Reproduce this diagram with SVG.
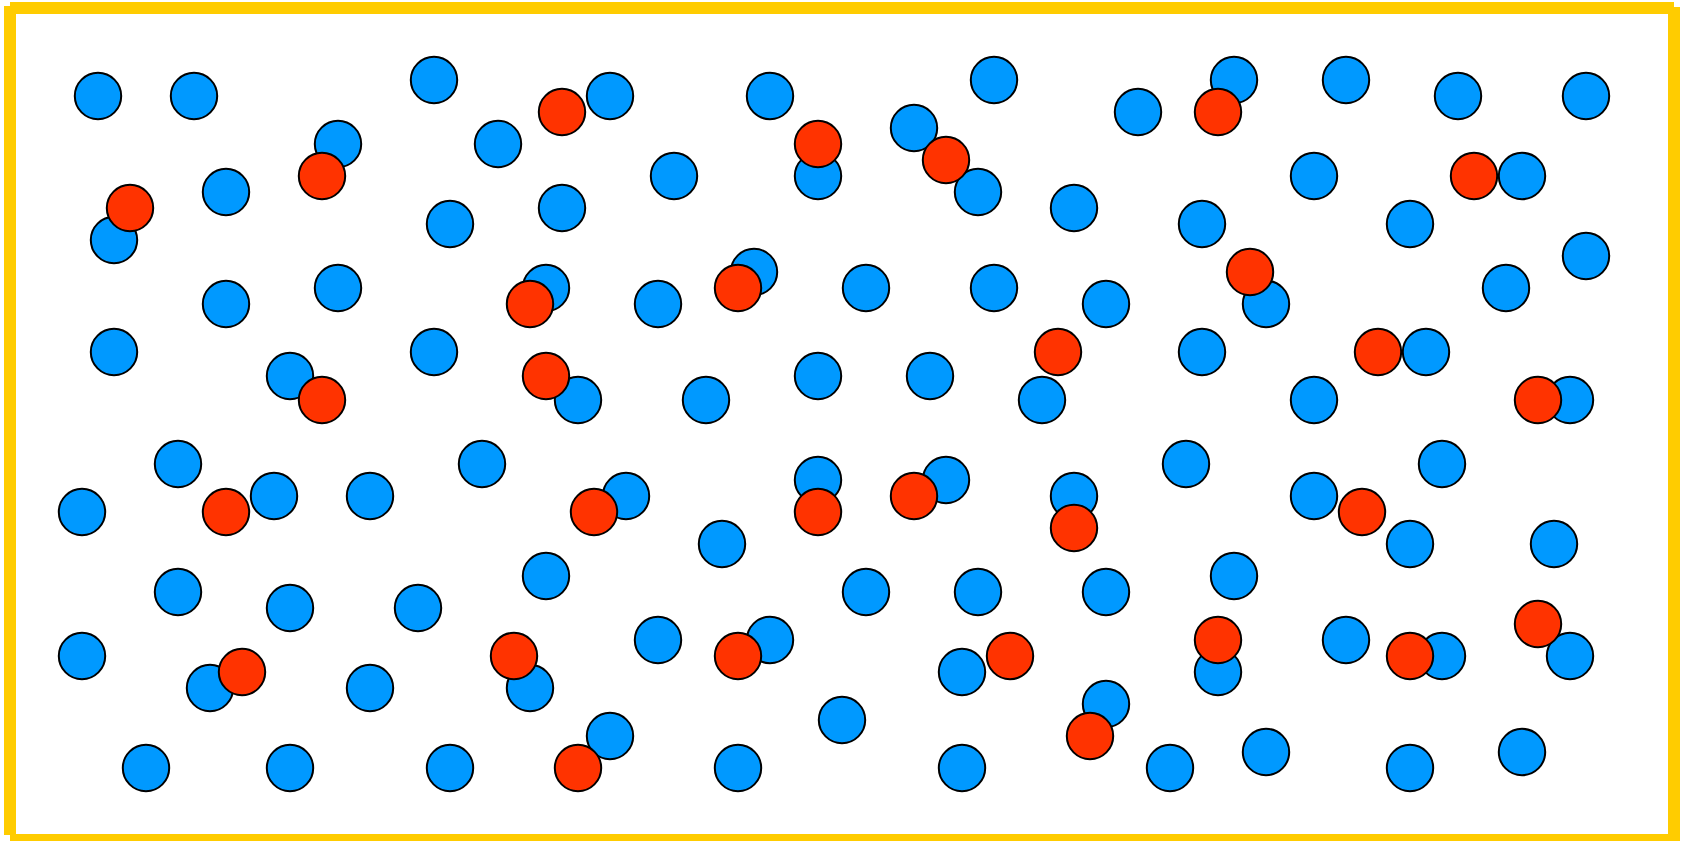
<svg xmlns="http://www.w3.org/2000/svg" width="1683" height="841" viewBox="0 0 1683 841">
<style>
.b{fill:#0099FF;stroke:#000;stroke-width:2}
.r{fill:#FF3300;stroke:#000;stroke-width:2}
circle{r:23.2px}
.f{stroke:#FFCC00;stroke-width:12;fill:none;stroke-linecap:butt}
</style>
<rect x="0" y="0" width="1683" height="841" fill="#fff"/>
<g id="frame">
<path class="f" d="M10 8H1674"/>
<path class="f" d="M1674 7V841"/>
<path class="f" d="M1674 840H10"/>
<path class="f" d="M10 835V6"/>
</g>
<g id="blue">
<circle class="b" cx="98" cy="96" r="23.2"/>
<circle class="b" cx="194" cy="96" r="23.2"/>
<circle class="b" cx="338" cy="144" r="23.2"/>
<circle class="b" cx="226" cy="192" r="23.2"/>
<circle class="b" cx="114" cy="240" r="23.2"/>
<circle class="b" cx="226" cy="304" r="23.2"/>
<circle class="b" cx="338" cy="288" r="23.2"/>
<circle class="b" cx="114" cy="352" r="23.2"/>
<circle class="b" cx="290" cy="376" r="23.2"/>
<circle class="b" cx="434" cy="80" r="23.2"/>
<circle class="b" cx="610" cy="96" r="23.2"/>
<circle class="b" cx="498" cy="144" r="23.2"/>
<circle class="b" cx="770" cy="96" r="23.2"/>
<circle class="b" cx="818" cy="176" r="23.2"/>
<circle class="b" cx="674" cy="176" r="23.2"/>
<circle class="b" cx="450" cy="224" r="23.2"/>
<circle class="b" cx="562" cy="208" r="23.2"/>
<circle class="b" cx="546" cy="288" r="23.2"/>
<circle class="b" cx="658" cy="304" r="23.2"/>
<circle class="b" cx="754" cy="272" r="23.2"/>
<circle class="b" cx="866" cy="288" r="23.2"/>
<circle class="b" cx="434" cy="352" r="23.2"/>
<circle class="b" cx="578" cy="400" r="23.2"/>
<circle class="b" cx="706" cy="400" r="23.2"/>
<circle class="b" cx="818" cy="376" r="23.2"/>
<circle class="b" cx="994" cy="80" r="23.2"/>
<circle class="b" cx="914" cy="128" r="23.2"/>
<circle class="b" cx="978" cy="192" r="23.2"/>
<circle class="b" cx="1138" cy="112" r="23.2"/>
<circle class="b" cx="1234" cy="80" r="23.2"/>
<circle class="b" cx="1074" cy="208" r="23.2"/>
<circle class="b" cx="1202" cy="224" r="23.2"/>
<circle class="b" cx="994" cy="288" r="23.2"/>
<circle class="b" cx="1106" cy="304" r="23.2"/>
<circle class="b" cx="1266" cy="304" r="23.2"/>
<circle class="b" cx="930" cy="376" r="23.2"/>
<circle class="b" cx="1042" cy="400" r="23.2"/>
<circle class="b" cx="1202" cy="352" r="23.2"/>
<circle class="b" cx="1346" cy="80" r="23.2"/>
<circle class="b" cx="1458" cy="96" r="23.2"/>
<circle class="b" cx="1586" cy="96" r="23.2"/>
<circle class="b" cx="1314" cy="176" r="23.2"/>
<circle class="b" cx="1522" cy="176" r="23.2"/>
<circle class="b" cx="1410" cy="224" r="23.2"/>
<circle class="b" cx="1586" cy="256" r="23.2"/>
<circle class="b" cx="1506" cy="288" r="23.2"/>
<circle class="b" cx="1426" cy="352" r="23.2"/>
<circle class="b" cx="1314" cy="400" r="23.2"/>
<circle class="b" cx="1570" cy="400" r="23.2"/>
<circle class="b" cx="178" cy="464" r="23.2"/>
<circle class="b" cx="82" cy="512" r="23.2"/>
<circle class="b" cx="274" cy="496" r="23.2"/>
<circle class="b" cx="370" cy="496" r="23.2"/>
<circle class="b" cx="178" cy="592" r="23.2"/>
<circle class="b" cx="290" cy="608" r="23.2"/>
<circle class="b" cx="418" cy="608" r="23.2"/>
<circle class="b" cx="82" cy="656" r="23.2"/>
<circle class="b" cx="210" cy="688" r="23.2"/>
<circle class="b" cx="370" cy="688" r="23.2"/>
<circle class="b" cx="146" cy="768" r="23.2"/>
<circle class="b" cx="290" cy="768" r="23.2"/>
<circle class="b" cx="482" cy="464" r="23.2"/>
<circle class="b" cx="626" cy="496" r="23.2"/>
<circle class="b" cx="546" cy="576" r="23.2"/>
<circle class="b" cx="722" cy="544" r="23.2"/>
<circle class="b" cx="818" cy="480" r="23.2"/>
<circle class="b" cx="658" cy="640" r="23.2"/>
<circle class="b" cx="770" cy="640" r="23.2"/>
<circle class="b" cx="530" cy="688" r="23.2"/>
<circle class="b" cx="610" cy="736" r="23.2"/>
<circle class="b" cx="450" cy="768" r="23.2"/>
<circle class="b" cx="738" cy="768" r="23.2"/>
<circle class="b" cx="842" cy="720" r="23.2"/>
<circle class="b" cx="946" cy="480" r="23.2"/>
<circle class="b" cx="1074" cy="496" r="23.2"/>
<circle class="b" cx="1186" cy="464" r="23.2"/>
<circle class="b" cx="866" cy="592" r="23.2"/>
<circle class="b" cx="978" cy="592" r="23.2"/>
<circle class="b" cx="1106" cy="592" r="23.2"/>
<circle class="b" cx="1234" cy="576" r="23.2"/>
<circle class="b" cx="962" cy="672" r="23.2"/>
<circle class="b" cx="1106" cy="704" r="23.2"/>
<circle class="b" cx="1218" cy="672" r="23.2"/>
<circle class="b" cx="962" cy="768" r="23.2"/>
<circle class="b" cx="1170" cy="768" r="23.2"/>
<circle class="b" cx="1266" cy="752" r="23.2"/>
<circle class="b" cx="1442" cy="464" r="23.2"/>
<circle class="b" cx="1314" cy="496" r="23.2"/>
<circle class="b" cx="1410" cy="544" r="23.2"/>
<circle class="b" cx="1554" cy="544" r="23.2"/>
<circle class="b" cx="1346" cy="640" r="23.2"/>
<circle class="b" cx="1442" cy="656" r="23.2"/>
<circle class="b" cx="1570" cy="656" r="23.2"/>
<circle class="b" cx="1410" cy="768" r="23.2"/>
<circle class="b" cx="1522" cy="752" r="23.2"/>
</g>
<g id="red">
<circle class="r" cx="322" cy="176" r="23.2"/>
<circle class="r" cx="130" cy="208" r="23.2"/>
<circle class="r" cx="322" cy="400" r="23.2"/>
<circle class="r" cx="562" cy="112" r="23.2"/>
<circle class="r" cx="818" cy="144" r="23.2"/>
<circle class="r" cx="530" cy="304" r="23.2"/>
<circle class="r" cx="738" cy="288" r="23.2"/>
<circle class="r" cx="546" cy="376" r="23.2"/>
<circle class="r" cx="946" cy="160" r="23.2"/>
<circle class="r" cx="1218" cy="112" r="23.2"/>
<circle class="r" cx="1058" cy="352" r="23.2"/>
<circle class="r" cx="1250" cy="272" r="23.2"/>
<circle class="r" cx="1474" cy="176" r="23.2"/>
<circle class="r" cx="1378" cy="352" r="23.2"/>
<circle class="r" cx="1538" cy="400" r="23.2"/>
<circle class="r" cx="226" cy="512" r="23.2"/>
<circle class="r" cx="242" cy="672" r="23.2"/>
<circle class="r" cx="594" cy="512" r="23.2"/>
<circle class="r" cx="818" cy="512" r="23.2"/>
<circle class="r" cx="514" cy="656" r="23.2"/>
<circle class="r" cx="738" cy="656" r="23.2"/>
<circle class="r" cx="578" cy="768" r="23.2"/>
<circle class="r" cx="914" cy="496" r="23.2"/>
<circle class="r" cx="1074" cy="528" r="23.2"/>
<circle class="r" cx="1010" cy="656" r="23.2"/>
<circle class="r" cx="1090" cy="736" r="23.2"/>
<circle class="r" cx="1218" cy="640" r="23.2"/>
<circle class="r" cx="1362" cy="512" r="23.2"/>
<circle class="r" cx="1410" cy="656" r="23.2"/>
<circle class="r" cx="1538" cy="624" r="23.2"/>
</g>
</svg>
